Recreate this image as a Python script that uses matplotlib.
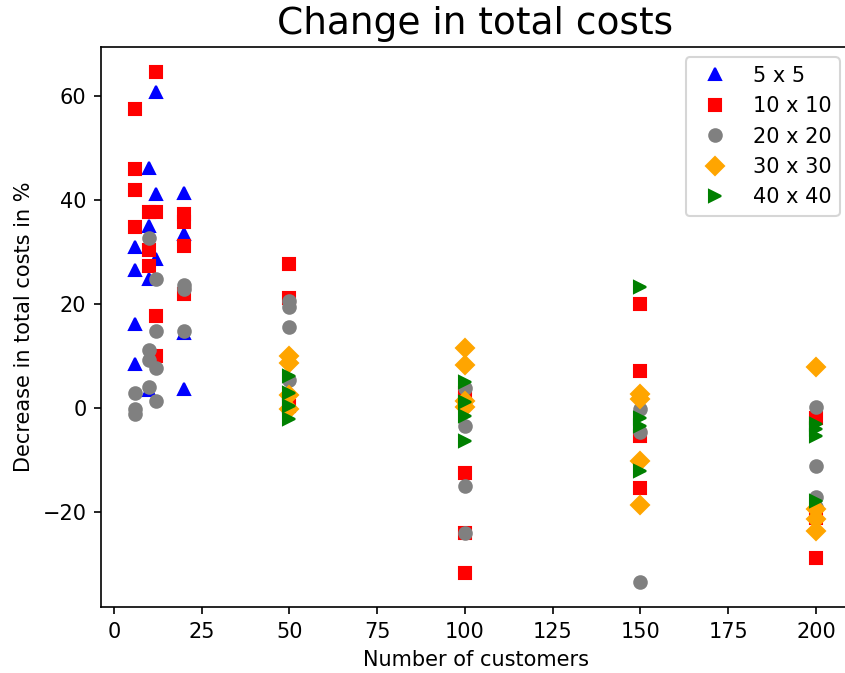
import matplotlib
matplotlib.use('Agg')
import matplotlib.pyplot as plt

# customers -> decrease in total costs (%) per grid size
x_5 = [6, 6, 6, 6, 10, 10, 10, 10, 12, 12, 12, 20, 20, 20, 20]
y_5 = [31, 26.7, 16.2, 8.5, 46.3, 35, 24.8, 3.5, 60.9, 41.2, 28.7, 41.5, 33.5, 14.5, 3.7]

x_10 = [6, 6, 6, 6, 10, 10, 10, 12, 12, 12, 12, 20, 20, 20, 20,
        50, 50, 50, 100, 100, 100, 100, 150, 150, 150, 150, 200, 200, 200]
y_10 = [57.5, 46, 42, 34.8, 37.7, 30.5, 27.3, 64.6, 37.7, 17.7, 10, 37.3, 35.8, 31.2, 22,
        27.7, 21.3, 0.5, 3, -12.4, -24, -31.7, 20, 7.1, -5.3, -15.3, -1.8, -28.7, -21]

x_20 = [6, 6, 6, 10, 10, 10, 10, 12, 12, 12, 12, 20, 20, 20,
        50, 50, 50, 50, 100, 100, 100, 100, 150, 150, 150, 200, 200, 200, 200]
y_20 = [2.9, -0.2, -1.1, 32.7, 11.3, 9.4, 4.2, 24.8, 14.8, 7.7, 1.5, 23.8, 22.9, 14.8,
        20.6, 19.4, 15.6, 5.5, 4, -3.4, -14.9, -24, -0.2, -4.6, -33.3, 0.2, -11.1, -17.1, -19]

x_30 = [50, 50, 50, 50, 100, 100, 100, 100, 150, 150, 150, 150, 200, 200, 200, 200]
y_30 = [10, 8.8, 2.5, -0.2, 11.7, 8.3, 1.4, 0.3, 2.7, 1.8, -10.2, -18.5, 7.9, -19.4, -21.3, -23.6]

x_40 = [50, 50, 50, 50, 100, 100, 100, 100, 150, 150, 150, 150, 200, 200, 200, 200]
y_40 = [6.2, 3, 0.4, -2.1, 5, 1.3, -1.4, -6.3, 23.4, -1.8, -3.4, -12.1, -3, -4, -5.4, -17.8]

fig = plt.figure(figsize=(845 / 150, 673 / 150), dpi=150)
ax = fig.add_axes([101 / 845, 66 / 673, 749 / 845, 560 / 673])

ax.plot(x_5, y_5, 'b^', label='5 x 5')
ax.plot(x_10, y_10, 'rs', label='10 x 10')
ax.plot(x_20, y_20, 'o', color='grey', label='20 x 20')
ax.plot(x_30, y_30, 'D', color='orange', label='30 x 30')
ax.plot(x_40, y_40, '>', color='green', label='40 x 40')

ax.set_title('Change in total costs', fontsize=18)
ax.set_xlabel('Number of customers')
ax.set_ylabel('Decrease in total costs in %')
ax.legend(loc='upper right')

fig.savefig('out.png', dpi=150)
